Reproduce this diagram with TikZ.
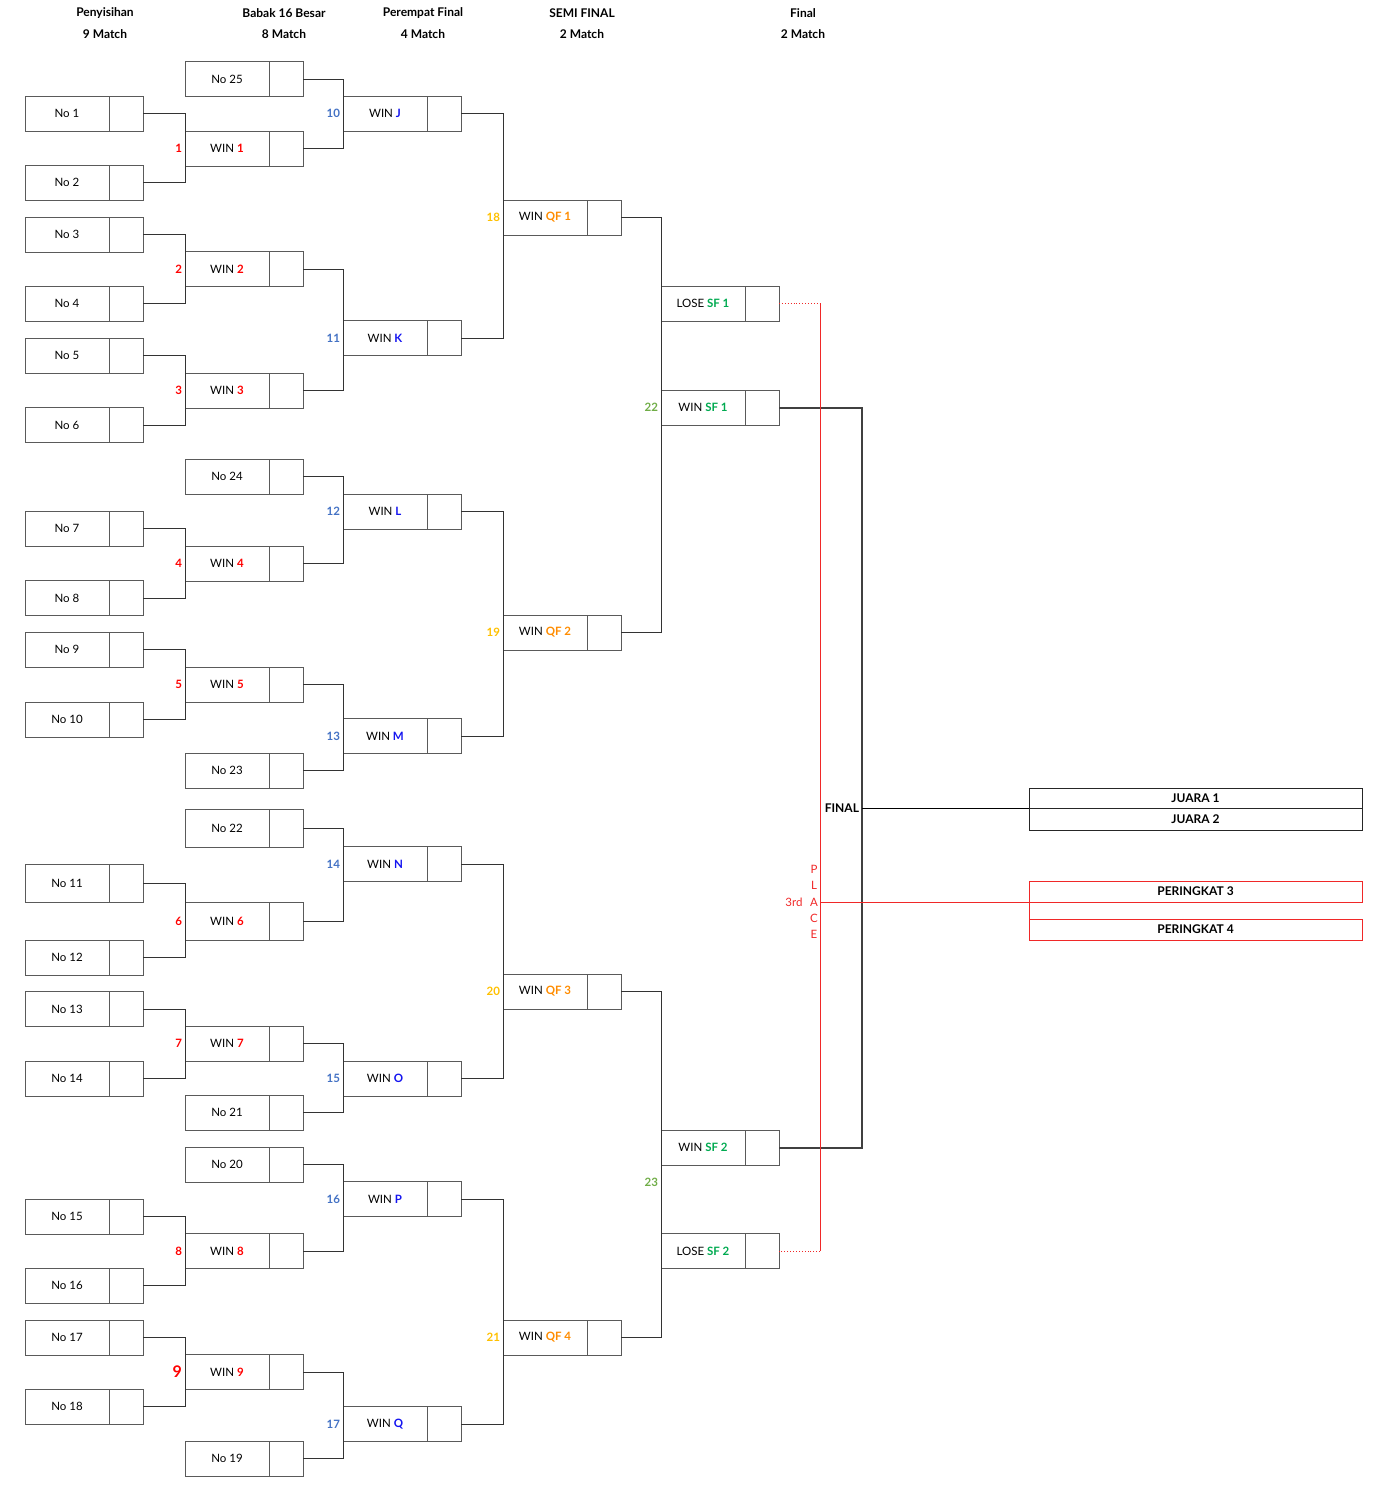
\documentclass[tikz,border=0pt]{standalone}
\usepackage{fontspec}
\setmainfont{Lato}
\usepackage{xcolor}

\definecolor{edgegray}{RGB}{90,90,90}
\definecolor{rndnum}{RGB}{255,0,0}
\definecolor{qnum}{RGB}{68,114,196}
\definecolor{qlet}{RGB}{20,20,240}
\definecolor{qfnum}{RGB}{255,192,0}
\definecolor{qftxt}{RGB}{255,140,0}
\definecolor{sfnum}{RGB}{112,173,71}
\definecolor{sftxt}{RGB}{0,170,80}
\definecolor{placered}{RGB}{240,40,40}

\begin{document}
\begin{tikzpicture}[
    x=1pt, y=-1pt,
    box width/.store in=\bw, box width=84,
    score width/.store in=\sw, score width=34,
    every node/.style={font=\fontsize{11.5}{14}\selectfont, inner sep=0pt, outer sep=0pt},
    slot/.style={draw=edgegray, line width=0.9pt, anchor=west, minimum width=\bw pt},
    score/.style={draw=edgegray, line width=0.9pt, anchor=west, minimum width=\sw pt},
    wire/.style={draw=black!80, line width=0.9pt},
    finalwire/.style={draw=black!75, line width=2pt},
    place/.style={draw=placered, line width=0.9pt},
    loser/.style={place, dotted},
    mnum/.style={anchor=east, xshift=-3pt, font=\fontsize{11.5}{14}\selectfont\bfseries},
    head/.style={font=\fontsize{12}{14}\selectfont\bfseries},
    prize/.style={draw=black!85, line width=0.9pt, minimum width=333pt, font=\fontsize{12}{14}\selectfont\bfseries}
]
\useasboundingbox (0,0) rectangle (1380,1490);

% Helper macro for one bracket slot: name box plus score box
\newcommand{\slotbox}[5]{% name, x, y, height, label
    \node[slot, minimum height=#4pt] (#1) at (#2,#3) {#5};
    \node[score, minimum height=#4pt] (#1s) at (#1.east) {};
}
% Helper macro for the elbow joining two slots into the next round
\newcommand{\joinpair}[3]{% top, bottom, next slot
    \draw[wire] (#1s.east) -| (#3.west |- #2s.east) -- (#2s.east);
}
% Coloured bold part of a label
\newcommand{\hl}[2]{\textcolor{#1}{\bfseries #2}}

% Headers
\node[head] (h1) at (105,13) {Penyisihan};
\node[head] (h1b) at (105,34) {9 Match};
\node[head] (h2) at (284,13) {Babak 16 Besar};
\node[head] (h2b) at (284,34) {8 Match};
\node[head] (h3) at (423,13) {Perempat Final};
\node[head] (h3b) at (423,34) {4 Match};
\node[head] (h4) at (582,13) {SEMI FINAL};
\node[head] (h4b) at (582,34) {2 Match};
\node[head] (h5) at (803,13) {Final};
\node[head] (h5b) at (803,34) {2 Match};

% Column 1: Penyisihan
\slotbox{n1}{25}{113.5}{35}{No 1}
\slotbox{n2}{25}{182.5}{35}{No 2}
\slotbox{n3}{25}{234.5}{35}{No 3}
\slotbox{n4}{25}{303.5}{35}{No 4}
\slotbox{n5}{25}{355.5}{35}{No 5}
\slotbox{n6}{25}{425}{35}{No 6}
\slotbox{n7}{25}{528.5}{35}{No 7}
\slotbox{n8}{25}{598}{35}{No 8}
\slotbox{n9}{25}{649.5}{35}{No 9}
\slotbox{n10}{25}{719.5}{35}{No 10}
\slotbox{n11}{25}{883}{38}{No 11}
\slotbox{n12}{25}{957.5}{35}{No 12}
\slotbox{n13}{25}{1009}{35}{No 13}
\slotbox{n14}{25}{1078.5}{35}{No 14}
\slotbox{n15}{25}{1216.5}{35}{No 15}
\slotbox{n16}{25}{1285.5}{35}{No 16}
\slotbox{n17}{25}{1337.5}{35}{No 17}
\slotbox{n18}{25}{1406.5}{35}{No 18}

% Column 2: Babak 16 Besar
\slotbox{n25}{185}{79}{35}{No 25}
\slotbox{w1}{185}{148.5}{35}{WIN \hl{rndnum}{1}}
\slotbox{w2}{185}{269}{35}{WIN \hl{rndnum}{2}}
\slotbox{w3}{185}{390.5}{35}{WIN \hl{rndnum}{3}}
\slotbox{n24}{185}{476.5}{35}{No 24}
\slotbox{w4}{185}{563.5}{35}{WIN \hl{rndnum}{4}}
\slotbox{w5}{185}{684.5}{35}{WIN \hl{rndnum}{5}}
\slotbox{n23}{185}{770.5}{35}{No 23}
\slotbox{n22}{185}{828}{38}{No 22}
\slotbox{w6}{185}{921}{38}{WIN \hl{rndnum}{6}}
\slotbox{w7}{185}{1043.5}{35}{WIN \hl{rndnum}{7}}
\slotbox{n21}{185}{1112.5}{35}{No 21}
\slotbox{n20}{185}{1164.5}{35}{No 20}
\slotbox{w8}{185}{1251}{35}{WIN \hl{rndnum}{8}}
\slotbox{w9}{185}{1372}{35}{WIN \hl{rndnum}{9}}
\slotbox{n19}{185}{1458.5}{35}{No 19}

% Column 3: Perempat Final
\slotbox{wJ}{343}{113.5}{35}{WIN \hl{qlet}{J}}
\slotbox{wK}{343}{338}{35}{WIN \hl{qlet}{K}}
\slotbox{wL}{343}{511.5}{35}{WIN \hl{qlet}{L}}
\slotbox{wM}{343}{736}{35}{WIN \hl{qlet}{M}}
\slotbox{wN}{343}{864}{35}{WIN \hl{qlet}{N}}
\slotbox{wO}{343}{1078.5}{35}{WIN \hl{qlet}{O}}
\slotbox{wP}{343}{1199}{35}{WIN \hl{qlet}{P}}
\slotbox{wQ}{343}{1424}{35}{WIN \hl{qlet}{Q}}

% Column 4: Semi Final
\slotbox{qf1}{503}{217.5}{35}{WIN \hl{qftxt}{QF 1}}
\slotbox{qf2}{503}{632.5}{35}{WIN \hl{qftxt}{QF 2}}
\slotbox{qf3}{503}{991.5}{35}{WIN \hl{qftxt}{QF 3}}
\slotbox{qf4}{503}{1337.5}{35}{WIN \hl{qftxt}{QF 4}}

% Column 5: Final and 3rd place
\slotbox{lose1}{661}{303.5}{35}{LOSE \hl{sftxt}{SF 1}}
\slotbox{sf1}{661}{407.5}{35}{WIN \hl{sftxt}{SF 1}}
\slotbox{sf2}{661}{1147.5}{35}{WIN \hl{sftxt}{SF 2}}
\slotbox{lose2}{661}{1251}{35}{LOSE \hl{sftxt}{SF 2}}

% Elbows into column 2
\joinpair{n1}{n2}{w1}
\joinpair{n3}{n4}{w2}
\joinpair{n5}{n6}{w3}
\joinpair{n7}{n8}{w4}
\joinpair{n9}{n10}{w5}
\joinpair{n11}{n12}{w6}
\joinpair{n13}{n14}{w7}
\joinpair{n15}{n16}{w8}
\joinpair{n17}{n18}{w9}

% Elbows into column 3
\joinpair{n25}{w1}{wJ}
\joinpair{w2}{w3}{wK}
\joinpair{n24}{w4}{wL}
\joinpair{w5}{n23}{wM}
\joinpair{n22}{w6}{wN}
\joinpair{w7}{n21}{wO}
\joinpair{n20}{w8}{wP}
\joinpair{w9}{n19}{wQ}

% Elbows into column 4 and 5
\joinpair{wJ}{wK}{qf1}
\joinpair{wL}{wM}{qf2}
\joinpair{wN}{wO}{qf3}
\joinpair{wP}{wQ}{qf4}
\joinpair{qf1}{qf2}{sf1}
\joinpair{qf3}{qf4}{sf2}

% Match numbers
\node[mnum, text=rndnum] (m1) at (w1.west) {1};
\node[mnum, text=rndnum] (m2) at (w2.west) {2};
\node[mnum, text=rndnum] (m3) at (w3.west) {3};
\node[mnum, text=rndnum] (m4) at (w4.west) {4};
\node[mnum, text=rndnum] (m5) at (w5.west) {5};
\node[mnum, text=rndnum] (m6) at (w6.west) {6};
\node[mnum, text=rndnum] (m7) at (w7.west) {7};
\node[mnum, text=rndnum] (m8) at (w8.west) {8};
\node[mnum, text=rndnum, font=\fontsize{16}{16}\selectfont\bfseries] (m9) at (w9.west) {9};
\node[mnum, text=qnum] (m10) at (wJ.west) {10};
\node[mnum, text=qnum] (m11) at (wK.west) {11};
\node[mnum, text=qnum] (m12) at (wL.west) {12};
\node[mnum, text=qnum] (m13) at (wM.west) {13};
\node[mnum, text=qnum] (m14) at (wN.west) {14};
\node[mnum, text=qnum] (m15) at (wO.west) {15};
\node[mnum, text=qnum] (m16) at (wP.west) {16};
\node[mnum, text=qnum] (m17) at (wQ.west) {17};
\node[mnum, text=qfnum] (m18) at (qf1.west) {18};
\node[mnum, text=qfnum] (m19) at (qf2.west) {19};
\node[mnum, text=qfnum] (m20) at (qf3.west) {20};
\node[mnum, text=qfnum] (m21) at (qf4.west) {21};
\node[mnum, text=sfnum] (m22) at (sf1.west) {22};
\node[mnum, text=sfnum] (m23) at (661,1182) {23};

% Final: winners of both semis
\coordinate (fin) at (862,808);
\draw[finalwire] (sf1s.east) -| (fin |- sf2s.east) -- (sf2s.east);
\node[anchor=east, xshift=-3pt, font=\fontsize{12}{14}\selectfont\bfseries] (finlbl) at (fin) {FINAL};
\node[prize, minimum height=20pt, anchor=south west] (j1) at (1029,808) {JUARA 1};
\node[prize, minimum height=22pt, anchor=north west] (j2) at (1029,808) {JUARA 2};
\draw[wire, draw=black] (fin) -- (j1.south west);

% 3rd place: losers of both semis
\coordinate (plc) at (820,902);
\draw[loser] (lose1s.east) -- (lose1s.east -| plc);
\draw[place] (lose1s.east -| plc) -- (lose2s.east -| plc);
\draw[loser] (lose2s.east -| plc) -- (lose2s.east);
\node[text=placered, align=center, font=\fontsize{11.5}{16.3}\selectfont] (plcword) at (814,902) {P\\L\\A\\C\\E};
\node[text=placered] (plc3rd) at (794,902) {3rd};
\node[prize, draw=placered, minimum height=21pt, anchor=south west] (p3) at (1029,902) {PERINGKAT 3};
\node[prize, draw=placered, minimum height=21pt, anchor=north west] (p4) at (1029,919) {PERINGKAT 4};
\draw[place] (plc) -- (p3.south west);
\draw[place] (p3.south west) -- (p4.north west);

\end{tikzpicture}
\end{document}
